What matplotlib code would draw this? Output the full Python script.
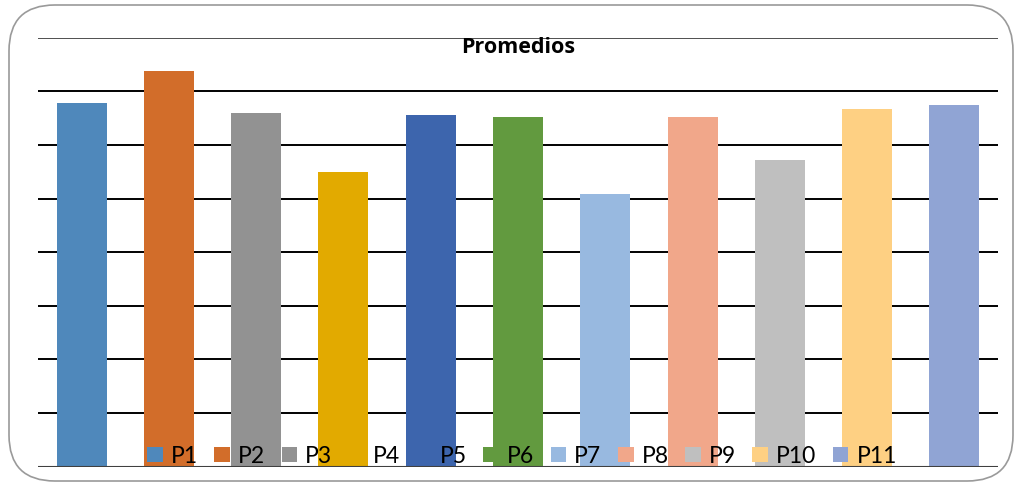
import matplotlib.pyplot as plt
from matplotlib.patches import FancyBboxPatch

# values (no axis labels in the original, scale 0-8)
labels = ['P1', 'P2', 'P3', 'P4', 'P5', 'P6', 'P7', 'P8', 'P9', 'P10', 'P11']
promedios = [6.79, 7.38, 6.60, 5.49, 6.56, 6.52, 5.09, 6.52, 5.72, 6.67, 6.75]
colores = ['#4F88BB', '#D26D2A', '#929292', '#E2AA00', '#3D65AD', '#629A3F',
           '#98B9E0', '#F1A78A', '#BFBFBF', '#FED083', '#90A4D4']
grid_levels = [1, 2, 3, 4, 5, 6, 7, 8]


def main():
    plt.rcParams['font.family'] = ['Lato', 'DejaVu Sans']
    fig = plt.figure(figsize=(10.19, 4.9), dpi=100)

    # rounded frame around the chart
    frame = FancyBboxPatch((9 / 1019, 9 / 490), 1004 / 1019, 476 / 490,
                           boxstyle='round,pad=0,rounding_size=0.045',
                           transform=fig.transFigure, fill=False,
                           edgecolor='#9A9A9A', linewidth=1.2,
                           mutation_aspect=1019 / 490)
    fig.patches.append(frame)

    ax = fig.add_axes([38 / 1019, 1 - 466.7 / 490, 960 / 1019, 429 / 490])
    for lvl in grid_levels:
        col = '#505050' if lvl == grid_levels[-1] else 'black'
        ax.axhline(lvl, color=col, linewidth=1.4, zorder=1)
    ax.axhline(0, color='#404040', linewidth=1.5, zorder=3)

    x = range(len(labels))
    bars = ax.bar(x, promedios, width=0.573, color=colores, zorder=2)
    for b, lab in zip(bars, labels):
        b.set_label(lab)

    ax.set_xlim(-0.5, len(labels) - 0.5)
    ax.set_ylim(0, 8)
    ax.set_xticks([])
    ax.set_yticks([])
    for s in ax.spines.values():
        s.set_visible(False)

    ax.text(0.5, 0.9636, 'Promedios', transform=ax.transAxes, ha='center',
            va='baseline', fontsize=15.5, fontweight='bold',
            family=['Open Sans', 'DejaVu Sans'])

    ax.legend(loc='center', bbox_to_anchor=((522 - 38) / 960, (466.7 - 456) / 429),
              ncol=len(labels), frameon=False, fontsize=16.5,
              handlelength=0.68, handleheight=0.68, handletextpad=0.35,
              columnspacing=0.72, borderpad=0)

    fig.savefig('out.png', dpi=100)


if __name__ == '__main__':
    main()
